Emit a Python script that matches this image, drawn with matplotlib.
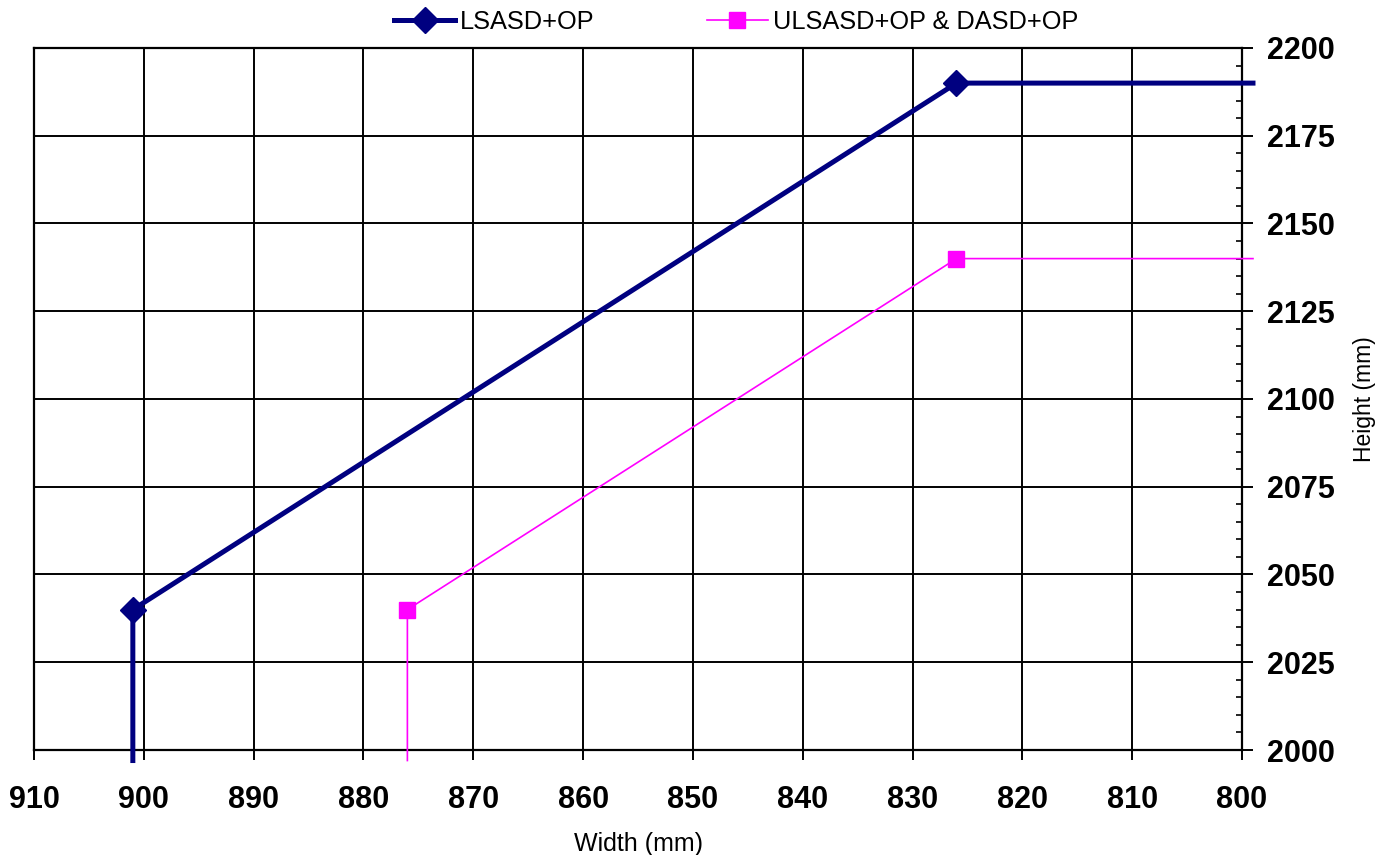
import matplotlib
matplotlib.use("Agg")
import matplotlib.pyplot as plt
from matplotlib.ticker import MultipleLocator

plt.rcParams['font.family'] = ['Liberation Sans', 'DejaVu Sans']

# Door envelope profiles: width (mm) against height (mm)
lsasd_width = [901, 901, 826, 799]
lsasd_height = [1997, 2040, 2190, 2190]

ulsasd_width = [876, 876, 826, 799]
ulsasd_height = [1997, 2040, 2140, 2140]

series_labels = ["LSASD+OP", "ULSASD+OP & DASD+OP"]
x_ticks = [910, 900, 890, 880, 870, 860, 850, 840, 830, 820, 810, 800]
y_ticks = [2000, 2025, 2050, 2075, 2100, 2125, 2150, 2175, 2200]

fig = plt.figure(figsize=(13.88, 8.55), dpi=100)
ax = fig.add_axes([34 / 1388, 105 / 855, (1242 - 34) / 1388, (750 - 48) / 855])

ax.plot(lsasd_width, lsasd_height, color="#000080", lw=3.6,
        marker="D", ms=13, markevery=[1, 2], clip_on=False, zorder=4,
        solid_joinstyle="miter", label=series_labels[0])
ax.plot(ulsasd_width, ulsasd_height, color="#FF00FF", lw=1.2,
        marker="s", ms=12, markevery=[1, 2], clip_on=False, zorder=3,
        label=series_labels[1])

ax.set_xlim(910, 800)
ax.set_ylim(2000, 2200)
ax.set_xticks(x_ticks)
ax.set_yticks(y_ticks)
ax.yaxis.set_minor_locator(MultipleLocator(5))

ax.yaxis.tick_right()
ax.yaxis.set_label_position("right")

ax.grid(True, which="major", color="black", lw=1.4)
ax.set_axisbelow(True)
for s in ax.spines.values():
    s.set_color("black")
    s.set_linewidth(1.6)

ax.tick_params(axis="x", which="major", direction="out", length=7.5, width=1.4,
               pad=18, labelsize=22)
ax.tick_params(axis="y", which="major", direction="out", length=8, width=1.4,
               pad=10, labelsize=22)
ax.tick_params(axis="y", which="minor", direction="in", length=4.5, width=1.2)
for lbl in ax.get_xticklabels() + ax.get_yticklabels():
    lbl.set_fontweight("bold")

ax.set_xlabel("Width (mm)", fontsize=18, labelpad=12)
ax.set_ylabel("Height (mm)", fontsize=16.5, labelpad=13)

fig.legend(loc="center", bbox_to_anchor=(736 / 1388, 1 - 22 / 855), ncol=2,
           frameon=False, fontsize=18.3, handlelength=2.4, handletextpad=0.2,
           columnspacing=4.4)

fig.savefig("out.png", dpi=100)
